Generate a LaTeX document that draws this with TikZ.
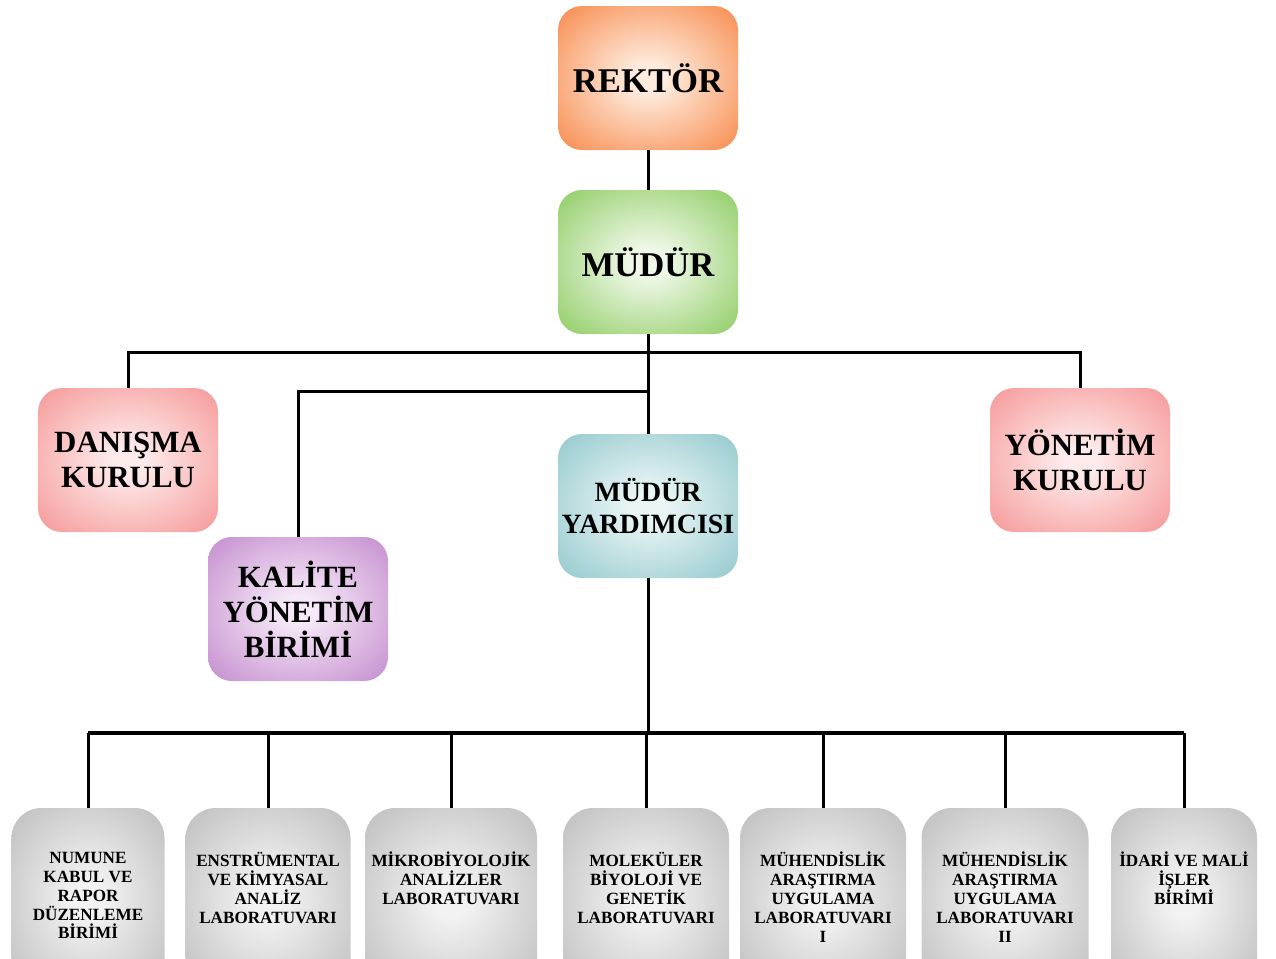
\documentclass[tikz,border=0pt]{standalone}
\usepackage{fontspec}
\setmainfont{Liberation Serif}
\usetikzlibrary{positioning}

\definecolor{rekIn}{HTML}{FEEBDD}
\definecolor{rekOut}{HTML}{F7894A}
\definecolor{mudIn}{HTML}{EFF8E8}
\definecolor{mudOut}{HTML}{8ECC63}
\definecolor{kurIn}{HTML}{FDEAEA}
\definecolor{kurOut}{HTML}{F69696}
\definecolor{kalIn}{HTML}{F5E8F7}
\definecolor{kalOut}{HTML}{C38BCD}
\definecolor{yrdIn}{HTML}{EAF5F5}
\definecolor{yrdOut}{HTML}{92C8CC}
\definecolor{labIn}{HTML}{F2F2F2}
\definecolor{labOut}{HTML}{BDBDBD}

\colorlet{glowin}{white}
\colorlet{glowout}{gray}
\pgfdeclareradialshading[glowin,glowout]{glow}{\pgfpointorigin}{color(0bp)=(glowin); color(5bp)=(glowin); color(36bp)=(glowout); color(50bp)=(glowout)}

\tikzset{
    box/.style 2 args={rectangle, rounded corners=12bp, shade, shading=glow,
        /utils/exec={\colorlet{glowin}{#1}\colorlet{glowout}{#2}},
        minimum width=90bp, minimum height=72bp, inner sep=0pt, align=center},
    big/.style={font=\bfseries\fontsize{15.5}{17.5}\selectfont},
    lab/.style={box={labIn}{labOut}, rounded corners=15bp, minimum height=91bp, minimum width=#1},
    labtext/.style={anchor=north, yshift=-22bp, inner sep=0pt, align=center, font=\bfseries\fontsize{8.6}{9.5}\selectfont},
    conn/.style={line width=1.5bp, black},
    bus/.style={line width=2bp, black}
}

\begin{document}
\begin{tikzpicture}[x=0.5bp, y=-0.5bp, every node/.style={font=\bfseries}]
            \useasboundingbox (0,0) rectangle (1276,958);
            \node[box={rekIn}{rekOut}, font=\bfseries\fontsize{17.4}{20}\selectfont] (R) at (648,78) {REKTÖR};
            \node[box={mudIn}{mudOut}, font=\bfseries\fontsize{17.4}{20}\selectfont] (M) at (648,262) {MÜDÜR};
            \node[box={kurIn}{kurOut}, big] (D) at (128,460) {DANIŞMA\\KURULU};
            \node[box={kurIn}{kurOut}, big] (Y) at (1080,460) {YÖNETİM\\KURULU};
            \node[box={kalIn}{kalOut}, big] (K) at (298,609) {KALİTE\\YÖNETİM\\BİRİMİ};
            \node[box={yrdIn}{yrdOut}, font=\bfseries\fontsize{14}{16.5}\selectfont] (MY) at (648,506) {MÜDÜR\\YARDIMCISI};

            \node[lab=76.5bp, label={[labtext]north:{NUMUNE\\KABUL VE\\RAPOR\\DÜZENLEME\\BİRİMİ}}] (L1) at (88,899) {};
            \node[lab=82.5bp, label={[labtext]north:{ENSTRÜMENTAL\\VE KİMYASAL\\ANALİZ\\LABORATUVARI}}] (L2) at (268,899) {};
            \node[lab=86bp, label={[labtext]north:{MİKROBİYOLOJİK\\ANALİZLER\\LABORATUVARI}}] (L3) at (451,899) {};
            \node[lab=83bp, label={[labtext]north:{MOLEKÜLER\\BİYOLOJİ VE\\GENETİK\\LABORATUVARI}}] (L4) at (646,899) {};
            \node[lab=83bp, label={[labtext]north:{MÜHENDİSLİK\\ARAŞTIRMA\\UYGULAMA\\LABORATUVARI\\I}}] (L5) at (823,899) {};
            \node[lab=83.5bp, label={[labtext]north:{MÜHENDİSLİK\\ARAŞTIRMA\\UYGULAMA\\LABORATUVARI\\II}}] (L6) at (1005,899) {};
            \node[lab=73bp, label={[labtext]north:{İDARİ VE MALİ\\İŞLER\\BİRİMİ}}] (L7) at (1184,899) {};

            \coordinate (top) at (648,352);
            \coordinate (mid) at (648,391);
            \coordinate (low) at (648,733);
            \draw[conn] (R) -- (M);
            \draw[conn] (M.south) -- (MY.north);
            \draw[conn] (D.north) |- (top) -| (Y.north);
            \draw[conn] (K.north) |- (mid);
            \draw[conn] (MY.south) -- (low);
            \draw[bus] (L1.north |- low) -- (L7.north |- low);
            \foreach \n in {1,...,7}
                \draw[conn] (L\n.north |- low) -- (L\n.north);
        \end{tikzpicture}
\end{document}
